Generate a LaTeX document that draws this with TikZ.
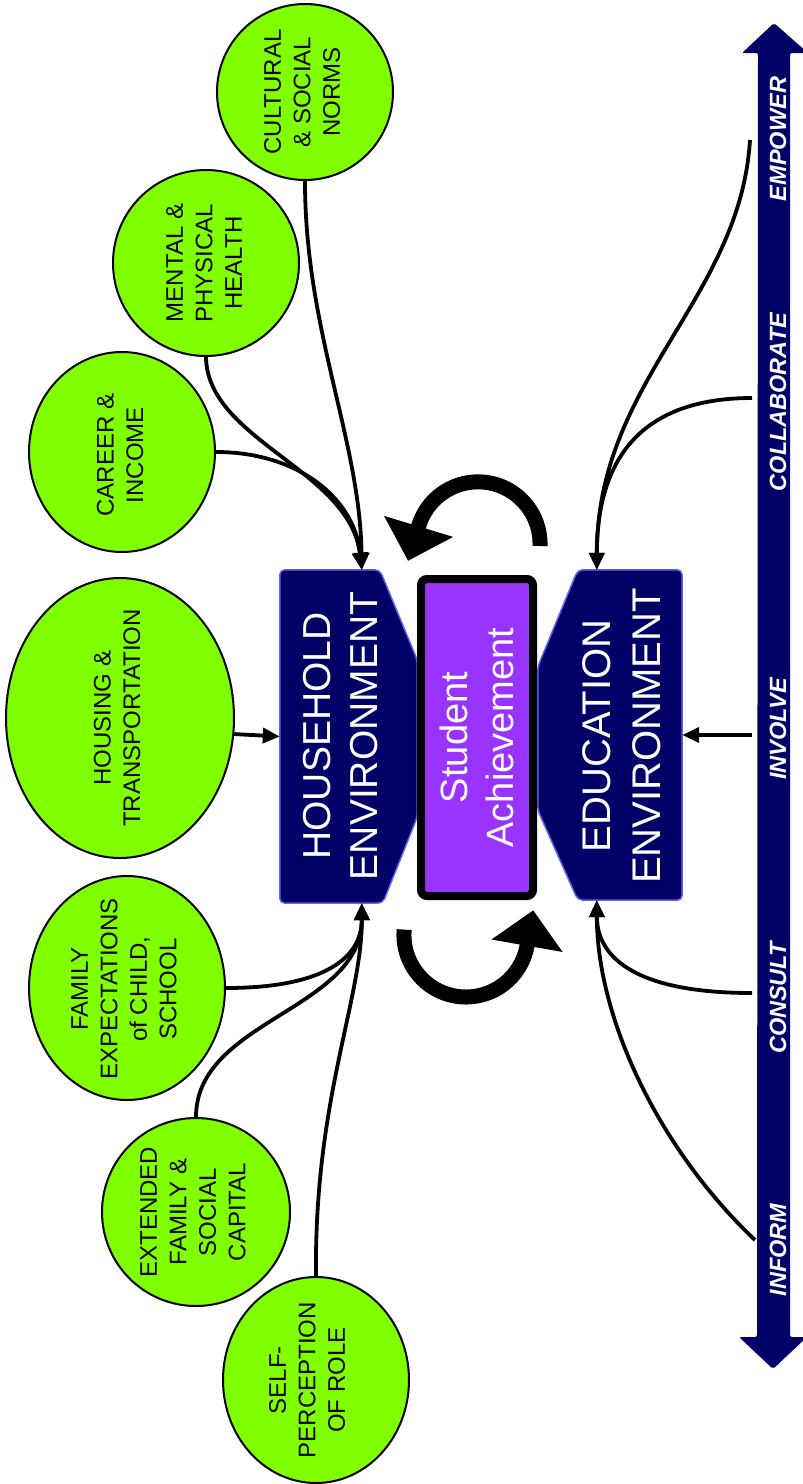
\documentclass[tikz,border=0pt]{standalone}
\usepackage{fontspec}
\setmainfont{Liberation Sans}
\usetikzlibrary{arrows.meta,shapes.geometric,calc}

\definecolor{leaf}{RGB}{128,255,0}
\definecolor{deepnavy}{RGB}{0,0,102}
\definecolor{navyedge}{RGB}{96,96,235}
\definecolor{achviolet}{RGB}{153,51,255}

\tikzset{
  bubble/.style={ellipse, draw=black, line width=2pt, fill=leaf, inner sep=0pt},
  bubbletext/.style={rotate=90, align=center, inner sep=0pt,
                     font=\fontsize{24}{29.5}\selectfont},
  envframe/.style={rectangle, inner sep=0pt},
  envshape/.style={fill=deepnavy, draw=navyedge, line width=1.5pt, rounded corners=5pt},
  envtext/.style={rotate=90, align=center, text=white, inner sep=0pt},
  achbox/.style={rotate=90, align=center, draw=black, line width=8pt, fill=achviolet,
                 rounded corners=6pt, text=white, inner sep=0pt,
                 font=\fontsize{38}{46}\selectfont},
  link/.style={line width=3.8pt, -{Triangle[width=15pt,length=17pt]}},
  turnarrow/.style={line width=15pt, -{Triangle[width=70pt,length=36pt]}},
  scalelabel/.style={rotate=90, text=white, inner sep=0pt,
                     font=\fontsize{23.5}{27}\selectfont\bfseries\itshape}
}

\begin{document}
\begin{tikzpicture}[x=1pt,y=-1pt]
\useasboundingbox (0,0) rectangle (803,1484);

% ---- engagement scale: double-headed arrow ----
\fill[deepnavy, rounded corners=2pt]
  (774,23) -- (808,53) -- (790,53) -- (790,1337) -- (807,1337) -- (773,1369)
  -- (739,1337) -- (757,1337) -- (758,53) -- (742,53) -- cycle;
\node[scalelabel] (l-emp) at (778,139)  {EMPOWER};
\node[scalelabel] (l-col) at (778,402)  {COLLABORATE};
\node[scalelabel] (l-inv) at (778,729)  {INVOLVE};
\node[scalelabel] (l-con) at (778,998)  {CONSULT};
\node[scalelabel] (l-inf) at (778,1250) {INFORM};

% ---- household environment ----
\node[envframe, minimum width=137pt, minimum height=333pt] (house) at (348.5,736.5) {};
\draw[envshape] (house.north west) -- ($(house.north west)+(100,0)$)
  -- ($(house.north east)+(0,90)$) -- ($(house.south east)+(0,-86)$)
  -- ($(house.south west)+(103,0)$) -- (house.south west) -- cycle;
\node[envtext, font=\fontsize{39}{47}\selectfont] (house-t) at (341,736)
  {HOUSEHOLD\\ENVIRONMENT};
\coordinate (house-top) at ($(house.north west)+(82,0)$);
\coordinate (house-bot) at ($(house.south west)+(82,0)$);

% ---- education environment ----
\node[envframe, minimum width=144pt, minimum height=330pt] (edu) at (610,735) {};
\draw[envshape] ($(edu.north west)+(40,0)$) -- (edu.north east) -- (edu.south east)
  -- ($(edu.south west)+(40,0)$) -- ($(edu.south west)+(0,-90)$)
  -- ($(edu.north west)+(0,97)$) -- cycle;
\node[envtext, font=\fontsize{40}{50}\selectfont] (edu-t) at (622,736)
  {EDUCATION\\ENVIRONMENT};
\coordinate (edu-top) at ($(edu.north west)+(59,0)$);
\coordinate (edu-bot) at ($(edu.south west)+(59,0)$);

% ---- student achievement ----
\node[achbox, minimum width=317pt, minimum height=112pt] (ach) at (477,737.5)
  {Student\\Achievement};

% ---- feedback loop arrows ----
\draw[turnarrow] (540,546) arc[start angle=2, end angle=-163.6, radius=62]
  -- ++(-10.5,34.5);
\draw[turnarrow] (404.2,929.6) arc[start angle=185, end angle=10, radius=62]
  -- ++(6.2,-35.5);

% ---- household factors ----
\node[bubble, minimum width=176pt, minimum height=176pt] (cult) at (305,92) {};
\node[bubbletext] (cult-t) at (302,92) {CULTURAL\\\& SOCIAL\\NORMS};
\node[bubble, minimum width=186pt, minimum height=186pt] (mental) at (206,263) {};
\node[bubbletext] (mental-t) at (204,263) {MENTAL \&\\PHYSICAL\\HEALTH};
\node[bubble, minimum width=186pt, minimum height=200pt] (career) at (122,452) {};
\node[bubbletext] (career-t) at (120,455) {CAREER \&\\INCOME};
\node[bubble, minimum width=228pt, minimum height=280pt] (housing) at (120,718) {};
\node[bubbletext] (housing-t) at (117,718) {HOUSING \&\\TRANSPORTATION};
\node[bubble, minimum width=196pt, minimum height=224pt] (family) at (127,988) {};
\node[bubbletext] (family-t) at (124,989) {FAMILY\\EXPECTATIONS\\of CHILD,\\SCHOOL};
\node[bubble, minimum width=188pt, minimum height=188pt] (extended) at (196,1212) {};
\node[bubbletext] (extended-t) at (193,1212) {EXTENDED\\FAMILY \&\\SOCIAL\\CAPITAL};
\node[bubble, minimum width=186pt, minimum height=206pt] (self) at (316,1380) {};
\node[bubbletext] (self-t) at (307,1380) {SELF-\\PERCEPTION\\OF ROLE};

% ---- links into the household ----
\draw[link] (cult.south) .. controls (305,330) and (360,440) .. (house-top);
\draw[link] (mental.south) .. controls (207,440) and (350,470) .. (house-top);
\draw[link] (career.east) .. controls (300,452) and (355,500) .. (house-top);
\draw[link] (housing.-8) -- (house.west);
\draw[link] (family.east) .. controls (320,988) and (362,960) .. (house-bot);
\draw[link] (extended.north) .. controls (196,1020) and (362,1010) .. (house-bot);
\draw[link] (self.north) .. controls (314,1100) and (362,1000) .. (house-bot);

% ---- links from the engagement scale ----
\coordinate (s-emp) at (750,140);
\coordinate (s-col) at (752,398);
\coordinate (s-inv) at (752,735);
\coordinate (s-con) at (752,993);
\coordinate (s-inf) at (755,1240);
\draw[link] (s-emp) .. controls (740,300) and (597,380) .. (edu-top);
\draw[link] (s-col) .. controls (640,398) and (597,460) .. (edu-top);
\draw[link] (s-inv) -- (edu.east);
\draw[link] (s-con) .. controls (640,993) and (597,960) .. (edu-bot);
\draw[link] (s-inf) .. controls (660,1150) and (597,1020) .. (edu-bot);
\end{tikzpicture}
\end{document}
